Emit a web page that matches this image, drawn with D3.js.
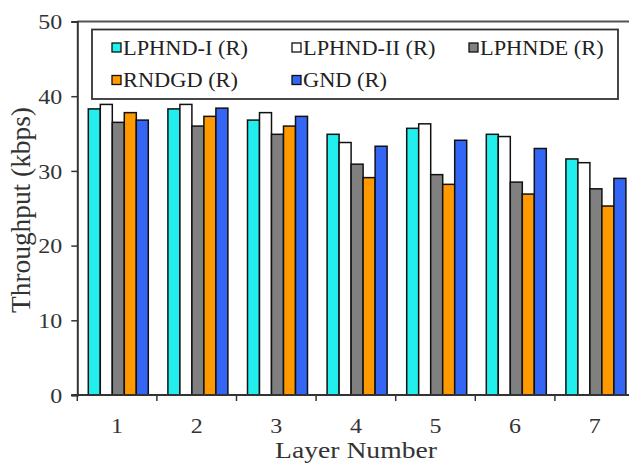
<!DOCTYPE html>
<html>
<head>
<meta charset="utf-8">
<script src="https://cdn.jsdelivr.net/npm/d3@7"></script>
<style>
  html, body { margin: 0; padding: 0; background: #fff; }
  svg { display: block; }
  svg text { font-family: "Liberation Serif", "Times New Roman", Times, serif; }
</style>
</head>
<body>
<svg id="chart" width="629" height="464"></svg>
<script>
const layers = ["1", "2", "3", "4", "5", "6", "7"];
const seriesNames = ["LPHND-I (R)", "LPHND-II (R)", "LPHNDE (R)", "RNDGD (R)", "GND (R)"];
const lphndI  = [38.3, 38.3, 36.8, 34.9, 35.7, 34.9, 31.6];
const lphndII = [38.9, 38.9, 37.8, 33.8, 36.3, 34.6, 31.1];
const lphnde  = [36.5, 36.0, 34.9, 30.9, 29.5, 28.5, 27.6];
const rndgd   = [37.8, 37.3, 36.0, 29.1, 28.2, 26.9, 25.3];
const gnd     = [36.8, 38.4, 37.3, 33.3, 34.1, 33.0, 29.0];
const yTicks  = [0, 10, 20, 30, 40, 50];
const colors  = ["#22eeee", "#ffffff", "#808080", "#ff9900", "#3366f4"];

const seriesValues = [lphndI, lphndII, lphnde, rndgd, gnd];
const FONT = '"Liberation Serif", "Times New Roman", Times, serif';

const svg = d3.select("#chart");
const mLeft = 77.3, mBottom = 395, mTop = 21.5, bandW = 79.6;
const mRight = mLeft + bandW * layers.length;

const x = d3.scaleBand().domain(layers).range([mLeft, mRight]).padding(0);
const xs = d3.scaleBand().domain(seriesNames).range([11, 71]).padding(0);
const y = d3.scaleLinear().domain([0, 50]).range([mBottom, mTop]);

// horizontal stretch factor so that a reference text reaches its measured width
function stretchFor(str, size, target) {
  const t = svg.append("text").style("font-family", FONT).style("font-size", size + "px").text(str);
  const w = t.node().getComputedTextLength();
  t.remove();
  return w > 0 ? target / w : 1;
}

// bars
layers.forEach((layer, i) => {
  const g = svg.append("g").attr("transform", `translate(${x(layer)},0)`);
  g.selectAll("rect")
    .data(seriesNames.map((s, k) => ({ s, k, v: seriesValues[k][i] })))
    .join("rect")
    .attr("x", d => xs(d.s))
    .attr("y", d => y(d.v))
    .attr("width", xs.bandwidth())
    .attr("height", d => y(0) - y(d.v))
    .attr("fill", d => colors[d.k])
    .attr("stroke", "#111")
    .attr("stroke-width", 1.5);
});

// top frame line
svg.append("line")
  .attr("x1", mLeft).attr("x2", 629).attr("y1", y(50)).attr("y2", y(50))
  .attr("stroke", "#555").attr("stroke-width", 2);

// y axis
const tickK = stretchFor("50", 20, 24);
const yAxis = svg.append("g").attr("transform", `translate(${mLeft},0)`)
  .call(d3.axisLeft(y).tickValues(yTicks).tickSize(6).tickPadding(10).tickFormat(d3.format("d")));
yAxis.select(".domain").attr("stroke", "#333").attr("stroke-width", 2);
yAxis.selectAll(".tick line").attr("stroke", "#333").attr("stroke-width", 1.5);
yAxis.selectAll(".tick text")
  .attr("x", null).attr("dy", "0.34em")
  .attr("transform", `translate(-15,0) scale(${tickK},1.05)`)
  .style("font-family", FONT).style("font-size", "20px").attr("fill", "#333");

// x axis
svg.append("line")
  .attr("x1", mLeft - 6).attr("x2", 629).attr("y1", mBottom).attr("y2", mBottom)
  .attr("stroke", "#333").attr("stroke-width", 2);
const bounds = layers.map(l => x(l)).concat([mRight]);
svg.selectAll(".xtick").data(bounds).join("line")
  .attr("class", "xtick")
  .attr("x1", d => d).attr("x2", d => d)
  .attr("y1", mBottom).attr("y2", mBottom + 6)
  .attr("stroke", "#333").attr("stroke-width", 1.5);
svg.selectAll(".xlab").data(layers).join("text")
  .attr("class", "xlab")
  .attr("text-anchor", "middle")
  .attr("transform", d => `translate(${x(d) + x.bandwidth() / 2},433) scale(${tickK},1.05)`)
  .style("font-family", FONT).style("font-size", "20px").attr("fill", "#333")
  .text(d => d);

// axis titles
const xtK = stretchFor("Layer Number", 23, 162);
svg.append("text")
  .attr("text-anchor", "middle")
  .attr("transform", `translate(356,458) scale(${xtK},1)`)
  .style("font-family", FONT).style("font-size", "23px").attr("fill", "#333")
  .text("Layer Number");
const ytK = stretchFor("Throughput (kbps)", 25, 206);
svg.append("text")
  .attr("text-anchor", "middle")
  .attr("transform", `translate(30,210) rotate(-90) scale(${ytK},1.1)`)
  .style("font-family", FONT).style("font-size", "25px").attr("fill", "#333")
  .text("Throughput (kbps)");

// legend
const lgK = stretchFor(seriesNames[0], 20, 125);
const lg = svg.append("g");
lg.append("rect")
  .attr("x", 92).attr("y", 29.5).attr("width", 526).attr("height", 69.5)
  .attr("fill", "#fff").attr("stroke", "#333").attr("stroke-width", 1.8);
const colX = [112, 292, 469];
const rowY = [47.5, 80];
seriesNames.forEach((s, k) => {
  const cx = colX[k % 3], cy = rowY[Math.floor(k / 3)];
  lg.append("rect")
    .attr("x", cx).attr("y", cy - 4.5).attr("width", 9).attr("height", 9)
    .attr("fill", colors[k]).attr("stroke", "#111").attr("stroke-width", 1.3);
  lg.append("text")
    .attr("transform", `translate(${cx + 11},${cy + 7}) scale(${lgK},1)`)
    .style("font-family", FONT).style("font-size", "20px").attr("fill", "#222")
    .text(s);
});
</script>
</body>
</html>
